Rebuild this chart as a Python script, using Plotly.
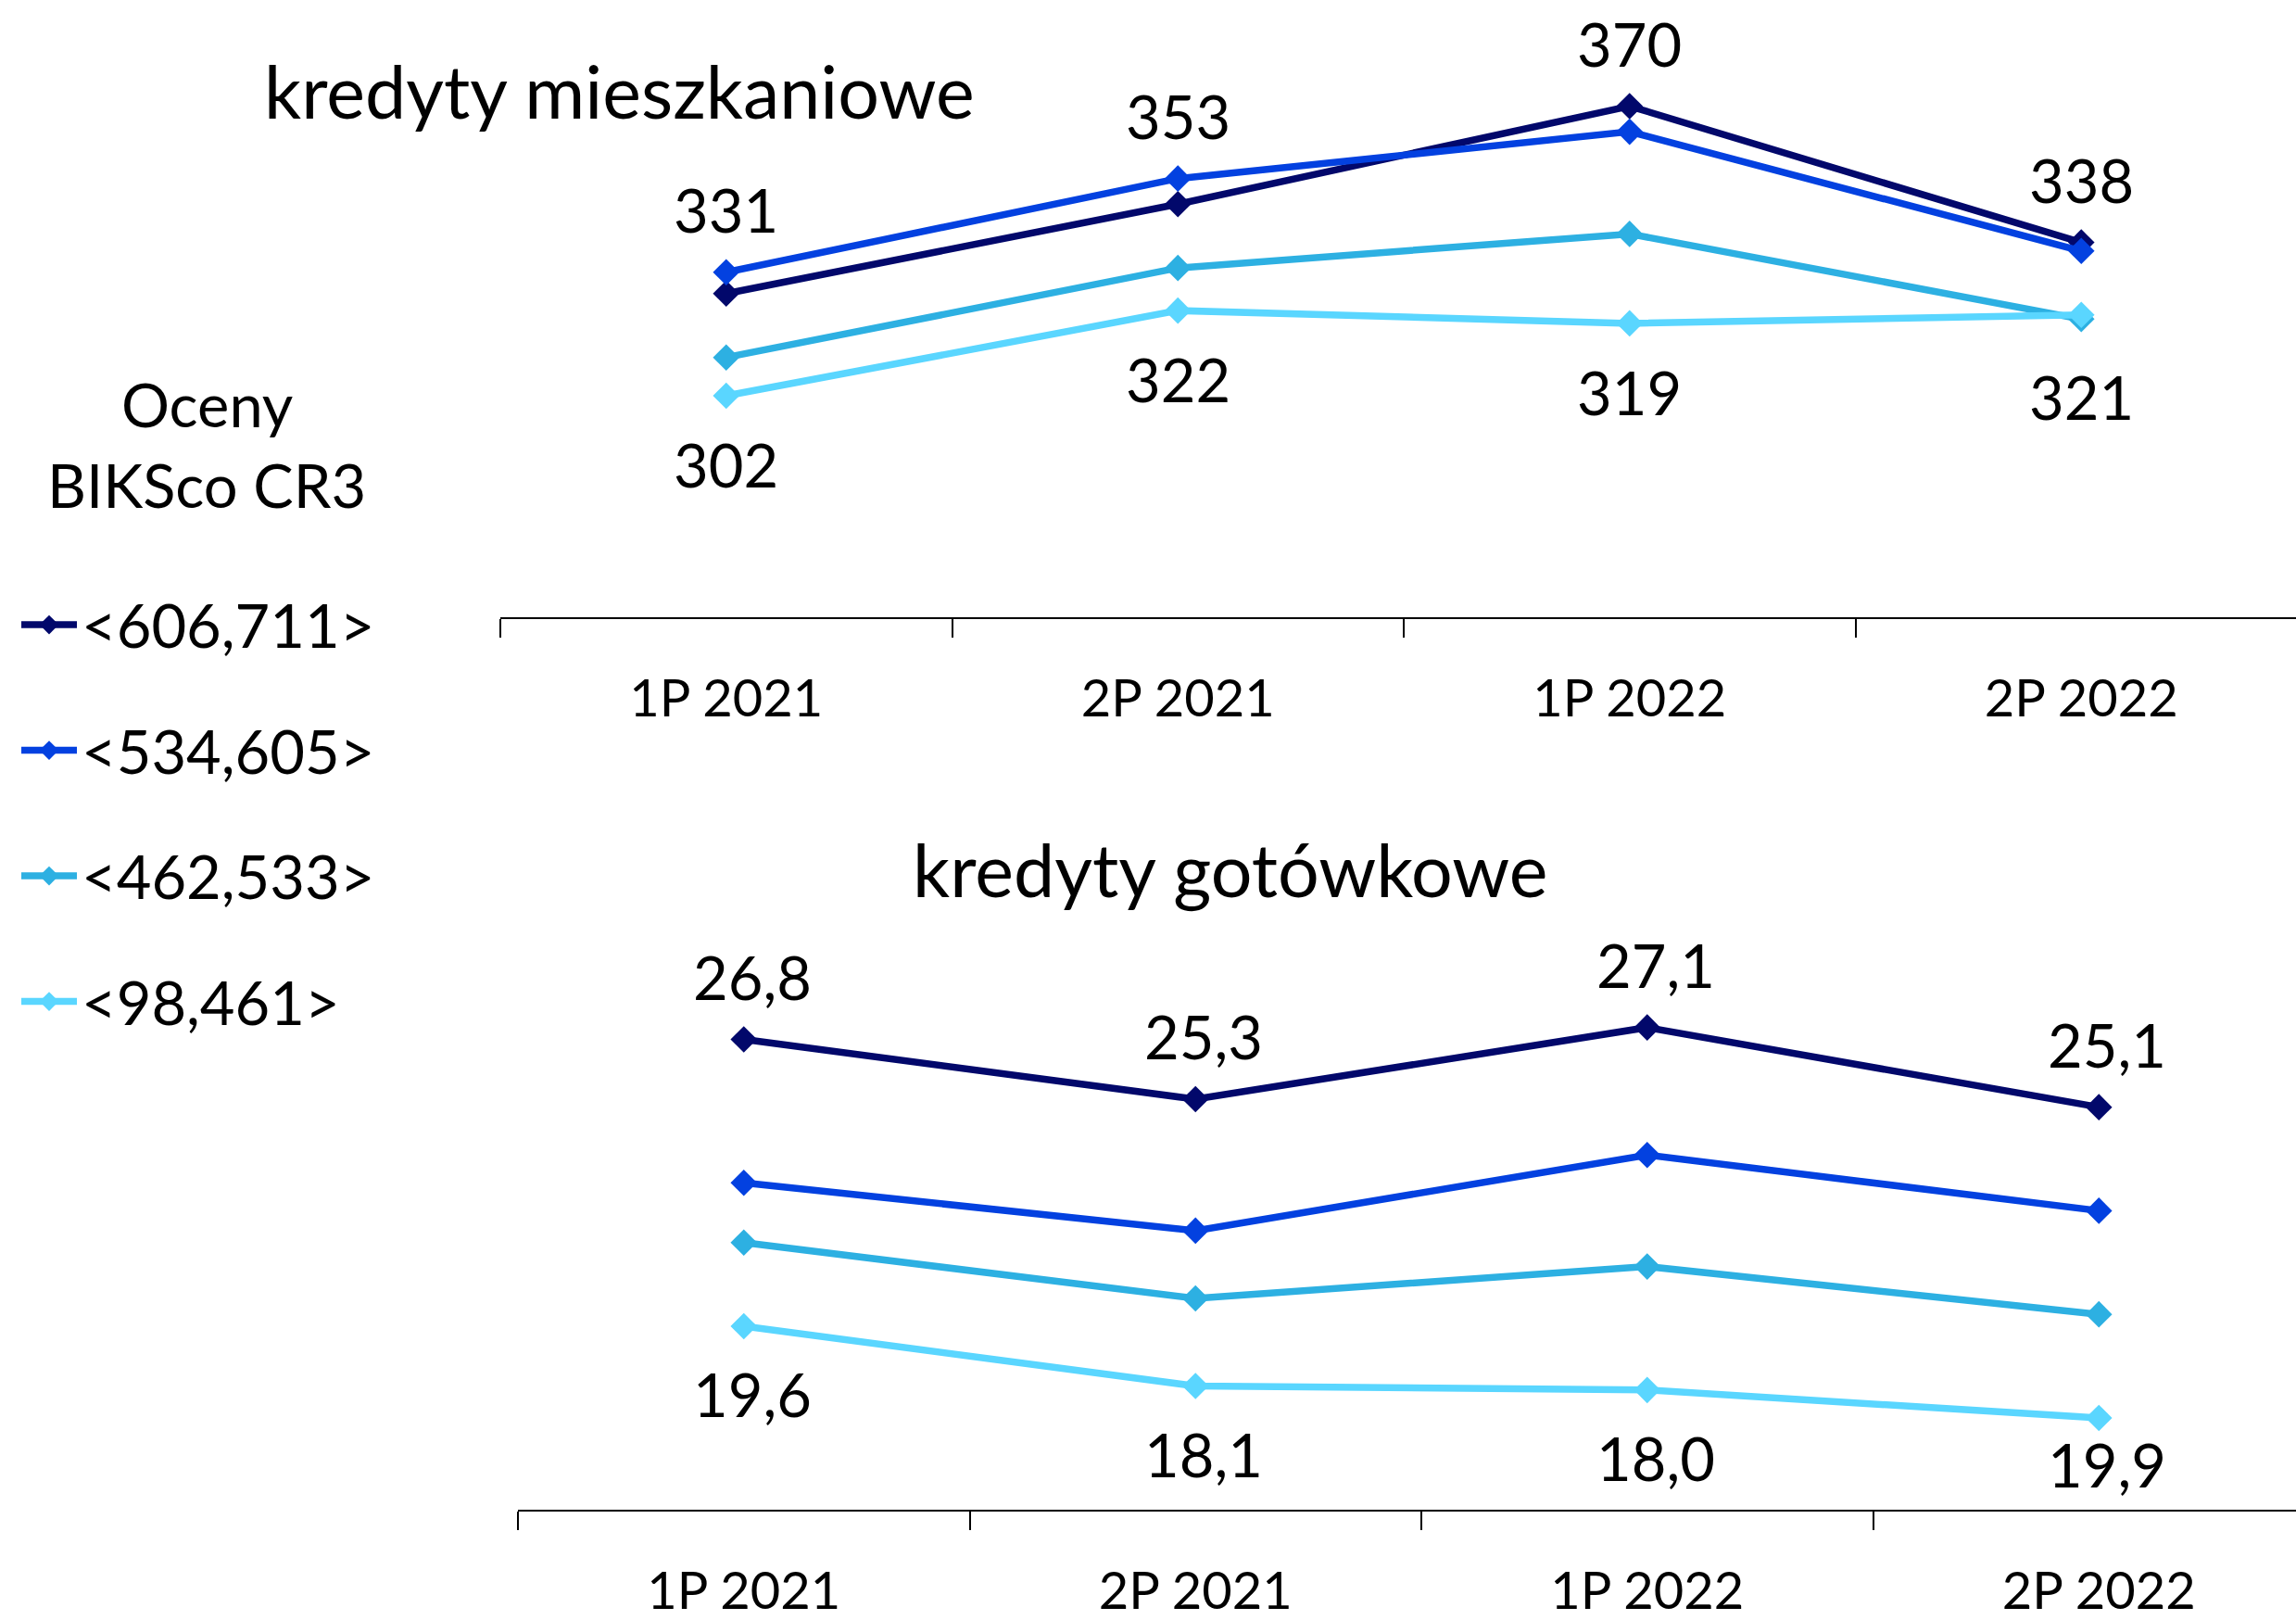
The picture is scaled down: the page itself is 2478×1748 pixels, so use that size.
import plotly.graph_objects as go

# ---------------- data ----------------
categories = ["1P 2021", "2P 2021", "1P 2022", "2P 2022"]
series_names = ["<606,711>", "<534,605>", "<462,533>", "<98,461>"]
colors = ["#02086B", "#0341E0", "#2DB0E2", "#5AD6FF"]

# kredyty mieszkaniowe
mieszk_606_711 = [326, 347, 370, 338]
mieszk_534_605 = [331, 353, 364, 336]
mieszk_462_533 = [311, 332, 340, 320]
mieszk_98_461 = [302, 322, 319, 321]

# kredyty gotówkowe
gotow_606_711 = [26.8, 25.3, 27.1, 25.1]
gotow_534_605 = [23.2, 22.0, 23.9, 22.5]
gotow_462_533 = [21.7, 20.3, 21.1, 19.9]
gotow_98_461 = [19.6, 18.1, 18.0, 17.3]

# data labels as printed on the chart
mieszk_labels_top = ["331", "353", "370", "338"]
mieszk_labels_bottom = ["302", "322", "319", "321"]
gotow_labels_top = ["26,8", "25,3", "27,1", "25,1"]
gotow_labels_bottom = ["19,6", "18,1", "18,0", "19,9"]

mieszk_series = [mieszk_606_711, mieszk_534_605, mieszk_462_533, mieszk_98_461]
gotow_series = [gotow_606_711, gotow_534_605, gotow_462_533, gotow_98_461]

# ---------------- styling ----------------
W, H = 2478, 1748
FONT = "Lato, 'Open Sans', sans-serif"
LABEL_SIZE = 65
TICK_SIZE = 56
LEGEND_SIZE = 65
TITLE_SIZE = 79


def px_x(p):
    return p / W


def px_y(p):
    return 1 - p / H


fig = go.Figure()

for i, (name, col) in enumerate(zip(series_names, colors)):
    fig.add_trace(go.Scatter(
        x=categories, y=mieszk_series[i], name=name, mode="lines+markers",
        line=dict(color=col, width=7.5),
        marker=dict(symbol="diamond", size=22, color=col),
        xaxis="x", yaxis="y", legendgroup=f"g{i}", showlegend=True,
        cliponaxis=False,
    ))
for i, (name, col) in enumerate(zip(series_names, colors)):
    fig.add_trace(go.Scatter(
        x=categories, y=gotow_series[i], name=name, mode="lines+markers",
        line=dict(color=col, width=7.5),
        marker=dict(symbol="diamond", size=22, color=col),
        xaxis="x2", yaxis="y2", legendgroup=f"g{i}", showlegend=False,
        cliponaxis=False,
    ))

annotations = []
# top chart labels: above the highest point, below the lowest series
for j, cat in enumerate(categories):
    top_val = max(s[j] for s in mieszk_series)
    annotations.append(dict(x=cat, y=top_val, xref="x", yref="y", text=mieszk_labels_top[j],
                            showarrow=False, yshift=68,
                            font=dict(family=FONT, size=LABEL_SIZE, color="black")))
    annotations.append(dict(x=cat, y=mieszk_98_461[j], xref="x", yref="y", text=mieszk_labels_bottom[j],
                            showarrow=False, yshift=-74 if j < 3 else -88,
                            font=dict(family=FONT, size=LABEL_SIZE, color="black")))
for j, cat in enumerate(categories):
    annotations.append(dict(x=cat, y=gotow_606_711[j], xref="x2", yref="y2", text=gotow_labels_top[j],
                            showarrow=False, yshift=68, xshift=9,
                            font=dict(family=FONT, size=LABEL_SIZE, color="black")))
    annotations.append(dict(x=cat, y=gotow_98_461[j], xref="x2", yref="y2", text=gotow_labels_bottom[j],
                            showarrow=False, yshift=-73 if j < 3 else -50, xshift=9,
                            font=dict(family=FONT, size=LABEL_SIZE, color="black")))

# titles
annotations.append(dict(x=px_x(668), y=px_y(98), xref="paper", yref="paper", text="kredyty mieszkaniowe",
                        showarrow=False, xanchor="center", yanchor="middle",
                        font=dict(family=FONT, size=TITLE_SIZE, color="black")))
annotations.append(dict(x=px_x(1327), y=px_y(945), xref="paper", yref="paper", text="kredyty gotówkowe",
                        showarrow=False, xanchor="center", yanchor="middle",
                        font=dict(family=FONT, size=TITLE_SIZE, color="black")))
annotations.append(dict(x=px_x(223), y=px_y(439), xref="paper", yref="paper", text="Oceny",
                        showarrow=False, xanchor="center", yanchor="middle",
                        font=dict(family=FONT, size=LEGEND_SIZE, color="black")))
annotations.append(dict(x=px_x(223), y=px_y(527), xref="paper", yref="paper", text="BIKSco CR3",
                        showarrow=False, xanchor="center", yanchor="middle",
                        font=dict(family=FONT, size=LEGEND_SIZE, color="black")))

xaxis_common = dict(
    type="category", showline=True, linecolor="black", linewidth=1.5,
    ticks="outside", tickson="boundaries", ticklen=20, tickwidth=1.5, tickcolor="black",
    showgrid=False, zeroline=False, ticklabelstandoff=38,
    tickfont=dict(family=FONT, size=TICK_SIZE, color="black"),
)

fig.update_layout(
    width=W, height=H,
    margin=dict(l=0, r=0, t=0, b=0),
    paper_bgcolor="white", plot_bgcolor="white",
    font=dict(family=FONT, color="black"),
    xaxis=dict(domain=[px_x(540), 1], range=[-0.5, -0.5 + (W - 540) / 487.5], anchor="y", **xaxis_common),
    yaxis=dict(domain=[px_y(671), px_y(22.8)], range=[250, 390], visible=False, anchor="x"),
    xaxis2=dict(domain=[px_x(559), 1], range=[-0.5, -0.5 + (W - 559) / 487.5], anchor="y2", **xaxis_common),
    yaxis2=dict(domain=[px_y(1641), px_y(1078)], range=[15, 28], visible=False, anchor="x2"),
    legend=dict(
        x=px_x(18), y=px_y(630), xanchor="left", yanchor="top",
        font=dict(family=FONT, size=LEGEND_SIZE, color="black"),
        tracegroupgap=48, itemwidth=60, bgcolor="rgba(0,0,0,0)",
    ),
    annotations=annotations,
)

fig.write_html("out.html", config={"displayModeBar": False},
               post_script="document.body.style.margin='0px';document.body.style.overflow='hidden';")
